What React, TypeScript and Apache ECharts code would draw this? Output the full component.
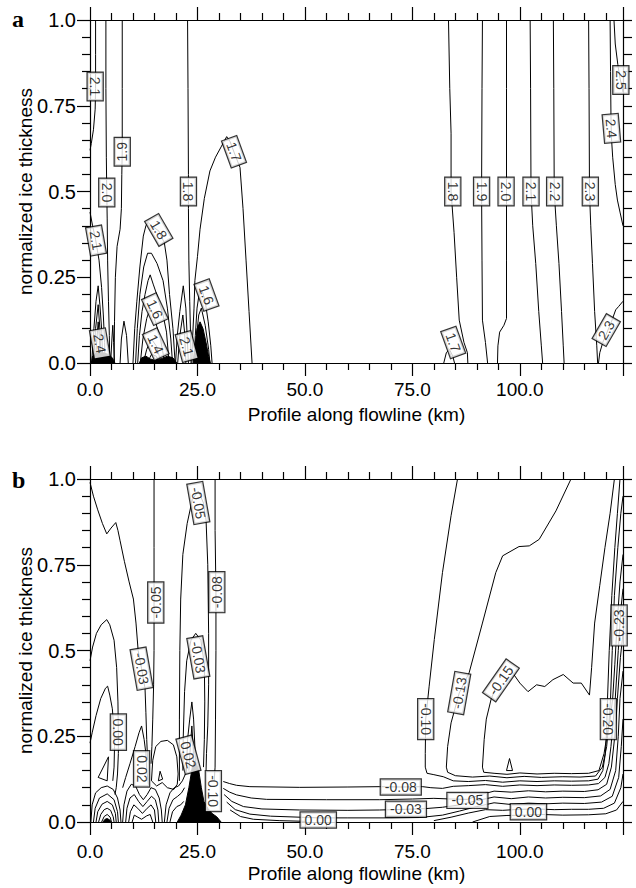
import React, { useEffect, useRef } from 'react';
import * as echarts from 'echarts';

type Pt = [number, number];

// ---------- axis texts ----------
const X_TITLE = 'Profile along flowline (km)';
const Y_TITLE = 'normalized ice thickness';
const X_MAX = 124;
const Y_TICK_LABELS: Record<string, string> = { '0': '0.0', '0.25': '0.25', '0.5': '0.5', '0.75': '0.75', '1': '1.0' };

// ---------- panel a contour lines (km, normalized thickness) ----------
const A_21_TOP: Pt[] = [[1.3, 1.0], [1.3, 0.9], [1.3, 0.8], [1.2, 0.74], [0.8, 0.68], [0.3, 0.64], [0, 0.62]];
const A_21_LOW: Pt[] = [[0, 0.44], [0.6, 0.4], [1.3, 0.36], [2.1, 0.3], [2.7, 0.22], [3.1, 0.14], [3.4, 0.06], [3.5, 0]];
const A_20: Pt[] = [[3.7, 1.0], [3.7, 0.8], [3.8, 0.6], [3.9, 0.5], [4.0, 0.42], [4.1, 0.3], [4.3, 0.18], [4.5, 0.08], [4.6, 0]];
const A_19: Pt[] = [[7.5, 1.0], [7.5, 0.8], [7.5, 0.62], [7.4, 0.55], [7.3, 0.45], [7.0, 0.39], [6.3, 0.34], [5.9, 0.25], [5.7, 0.12], [5.6, 0]];
const A_S1: Pt[] = [[0.4, 0], [0.9, 0.1], [1.4, 0.18], [1.9, 0.225], [2.3, 0.17], [2.7, 0.1], [3.0, 0]];
const A_S2: Pt[] = [[0.8, 0], [1.3, 0.1], [1.9, 0.17], [2.3, 0.1], [2.6, 0]];
const A_S3: Pt[] = [[1.2, 0], [1.6, 0.07], [1.9, 0.12], [2.2, 0.07], [2.4, 0]];
const A_S4: Pt[] = [[7.0, 0], [7.3, 0.07], [7.9, 0.122], [8.5, 0.08], [8.9, 0]];
const A_S5: Pt[] = [[4.8, 0], [5.1, 0.07], [5.3, 0.11], [5.5, 0.06], [5.7, 0]];
const A_18D: Pt[] = [[10.0, 0], [10.4, 0.1], [10.9, 0.18], [11.6, 0.28], [12.4, 0.37], [13.0, 0.4], [13.5, 0.41], [14.3, 0.4], [16.0, 0.385], [17.3, 0.35], [17.9, 0.3], [18.5, 0.2], [19.3, 0.1], [19.8, 0]];
const A_17D: Pt[] = [[10.6, 0], [11.0, 0.1], [11.6, 0.2], [12.5, 0.28], [13.4, 0.32], [14.3, 0.32], [15.6, 0.29], [17.0, 0.24], [18.0, 0.16], [18.8, 0.07], [19.2, 0]];
const A_16D: Pt[] = [[11.1, 0], [11.5, 0.08], [12.1, 0.15], [12.8, 0.2], [13.5, 0.24], [14.0, 0.257], [14.7, 0.23], [15.8, 0.19], [17.0, 0.14], [17.8, 0.09], [18.4, 0]];
const A_15D: Pt[] = [[11.7, 0], [12.3, 0.07], [13.2, 0.13], [14.0, 0.16], [15.0, 0.13], [16.4, 0.07], [17.4, 0]];
const A_14D: Pt[] = [[12.4, 0], [13.2, 0.04], [14.3, 0.07], [15.4, 0.05], [16.6, 0]];
const A_13D: Pt[] = [[13.3, 0], [14.3, 0.025], [15.4, 0.02], [16.0, 0]];
const A_S6: Pt[] = [[19.9, 0], [20.3, 0.08], [20.9, 0.15], [21.7, 0.225], [22.3, 0.16], [22.6, 0.08], [22.9, 0]];
const A_S7: Pt[] = [[20.4, 0], [20.9, 0.08], [21.6, 0.14], [22.0, 0.09], [22.3, 0]];
const A_18V: Pt[] = [[22.7, 1.0], [22.8, 0.8], [22.9, 0.55], [22.9, 0.45], [23.0, 0.3], [23.2, 0.18], [23.4, 0.08], [23.5, 0]];
const A_R1: Pt[] = [[24.2, 0], [24.5, 0.08], [24.9, 0.16], [25.5, 0.21], [26.1, 0.21], [26.8, 0.18], [27.5, 0.12], [28.1, 0.05], [28.4, 0]];
const A_R2: Pt[] = [[24.4, 0], [24.8, 0.08], [25.3, 0.14], [25.9, 0.16], [26.8, 0.11], [27.6, 0.04], [27.9, 0]];
const A_17: Pt[] = [[23.7, 0], [23.9, 0.08], [24.2, 0.16], [24.4, 0.24], [25.0, 0.31], [25.6, 0.39], [26.6, 0.48], [27.9, 0.56], [29.2, 0.6], [30.5, 0.63], [31.8, 0.66], [32.6, 0.645], [33.5, 0.615], [34.9, 0.57], [35.6, 0.45], [36.3, 0.3], [37.0, 0.15], [37.7, 0]];
const A_18R: Pt[] = [[83.4, 1.0], [83.7, 0.8], [84.0, 0.67], [84.0, 0.5], [84.7, 0.38], [85.3, 0.25], [85.9, 0.125], [87.0, 0.06], [87.8, 0.03], [87.9, 0]];
const A_17R: Pt[] = [[82.3, 0], [82.9, 0.03], [83.6, 0.04], [84.4, 0.02], [84.8, 0]];
const A_19R: Pt[] = [[91.3, 1.0], [91.2, 0.8], [91.1, 0.5], [91.2, 0.3], [91.3, 0.125], [92.0, 0.06], [92.5, 0]];
const A_20R: Pt[] = [[96.9, 1.0], [96.9, 0.8], [96.9, 0.5], [96.9, 0.3], [96.9, 0.13], [96.3, 0.11], [95.3, 0.09], [94.9, 0.05], [94.8, 0]];
const A_21R: Pt[] = [[102.4, 1.0], [102.5, 0.8], [102.6, 0.5], [103.0, 0.4], [103.7, 0.29], [104.4, 0.15], [105.0, 0.05], [105.3, 0]];
const A_22R: Pt[] = [[107.8, 1.0], [107.9, 0.8], [108.0, 0.5], [108.5, 0.4], [109.1, 0.29], [109.7, 0.15], [110.1, 0.05], [110.3, 0]];
const A_23R: Pt[] = [[116.0, 1.0], [116.1, 0.8], [116.2, 0.5], [116.5, 0.4], [116.9, 0.29], [117.4, 0.15], [117.9, 0.05], [118.1, 0]];
const A_24R: Pt[] = [[121.0, 1.0], [121.1, 0.85], [121.2, 0.72], [121.3, 0.66], [121.6, 0.6], [122.2, 0.52], [122.7, 0.475], [123.3, 0.44], [124, 0.4]];
const A_25R: Pt[] = [[121.9, 1.0], [122.2, 0.93], [122.8, 0.87], [123.3, 0.83], [124, 0.79]];
const A_23LOW: Pt[] = [[124, 0.18], [123.0, 0.165], [122.3, 0.155], [121.3, 0.12], [120.3, 0.09], [119.3, 0.06], [118.6, 0.03], [118.3, 0]];

// dense (black) bands of panel a
const A_FILL1: Pt[] = [[24.0, 0], [24.4, 0.05], [24.9, 0.1], [25.6, 0.12], [26.3, 0.1], [27.0, 0.06], [27.6, 0.02], [28.0, 0]];
const A_FILL2: Pt[] = [[0.3, 0], [0.6, 0.02], [1.5, 0.03], [3.0, 0.03], [4.3, 0.025], [5.2, 0.015], [5.8, 0]];
const A_FILL3: Pt[] = [[11.5, 0], [12.0, 0.015], [13.0, 0.02], [14.0, 0.012], [15.0, 0.008], [16.5, 0.012], [18.0, 0.02], [19.3, 0.015], [20.2, 0]];

const A_LINES: Pt[][] = [A_21_TOP, A_21_LOW, A_20, A_19, A_S1, A_S2, A_S3, A_S4, A_S5, A_18D, A_17D, A_16D, A_15D, A_14D, A_13D, A_S6, A_S7, A_18V, A_R1, A_R2, A_17, A_18R, A_17R, A_19R, A_20R, A_21R, A_22R, A_23R, A_24R, A_25R, A_23LOW];
const A_FILLS: Pt[][] = [A_FILL1, A_FILL2, A_FILL3];

const A_LABEL_TEXT = ['2.1', '2.0', '1.9', '2.1', '1.8', '1.7', '1.8', '1.6', '1.4', '2.4', '2.1', '1.6', '1.8', '1.9', '2.0', '2.1', '2.2', '2.3', '2.4', '2.5', '1.7', '2.3'];
const A_LABEL_POS: Pt[] = [[1.2, 0.806], [3.9, 0.497], [7.5, 0.616], [1.4, 0.357], [22.9, 0.5], [33.5, 0.616], [16.0, 0.388], [15.1, 0.157], [15.3, 0.055], [2.3, 0.057], [22.5, 0.048], [27.1, 0.198], [84.4, 0.5], [91.1, 0.5], [96.8, 0.5], [102.6, 0.5], [108.1, 0.5], [116.4, 0.5], [121.3, 0.684], [123.5, 0.825], [84.5, 0.06], [120.1, 0.096]];
const A_LABEL_ANGLE = [-90, -90, 90, -80, -90, -70, -60, -65, -65, -80, -75, -70, -90, -90, -90, -90, -90, -90, -85, -90, -70, 60];

// ---------- panel b contour lines ----------
const B_M03_TL: Pt[] = [[0, 0.99], [0.8, 0.95], [1.8, 0.91], [2.9, 0.87], [3.9, 0.84], [4.9, 0.857], [6.0, 0.873], [6.5, 0.85], [7.0, 0.82], [8.0, 0.76], [9.1, 0.7], [10.1, 0.65], [10.7, 0.58], [11.2, 0.5], [12.0, 0.447], [12.8, 0.39], [13.0, 0.32], [13.2, 0.24], [13.4, 0.18]];
const B_M05V: Pt[] = [[14.9, 1.0], [14.9, 0.8], [14.9, 0.64], [14.9, 0.5], [14.8, 0.4], [14.6, 0.3], [14.4, 0.22], [14.2, 0.17]];
const B_M08V: Pt[] = [[29.1, 1.0], [29.1, 0.85], [29.3, 0.67], [29.3, 0.5], [29.2, 0.3], [29.1, 0.16], [28.9, 0.12]];
const B_M05D: Pt[] = [[20.8, 0.12], [20.8, 0.3], [20.9, 0.5], [21.1, 0.65], [21.6, 0.78], [22.6, 0.87], [23.8, 0.94], [25.2, 0.965], [26.4, 0.93], [27.0, 0.88], [27.4, 0.75], [27.6, 0.55], [27.6, 0.4], [27.4, 0.28], [27.1, 0.2], [27.0, 0.15]];
const B_M03D: Pt[] = [[21.6, 0.15], [21.7, 0.25], [22.0, 0.38], [22.5, 0.47], [23.5, 0.53], [24.6, 0.55], [25.8, 0.53], [26.6, 0.46], [26.7, 0.35], [26.6, 0.24], [26.4, 0.16]];
const B_S1: Pt[] = [[22.4, 0.14], [22.7, 0.24], [23.2, 0.3], [23.7, 0.35], [24.1, 0.3], [24.4, 0.22], [24.6, 0.14]];
const B_S2: Pt[] = [[23.0, 0.15], [23.4, 0.23], [23.7, 0.28], [24.0, 0.22], [24.2, 0.15]];
const B_C00: Pt[] = [[0, 0.47], [0.6, 0.51], [1.5, 0.55], [2.6, 0.575], [3.9, 0.59], [4.6, 0.575], [5.6, 0.53], [6.2, 0.45], [6.5, 0.35], [6.6, 0.26], [6.6, 0.2], [6.4, 0.14], [6.1, 0.1], [5.8, 0.08]];
const B_C02A: Pt[] = [[0, 0.23], [0.5, 0.26], [1.4, 0.31], [2.5, 0.36], [3.6, 0.39], [4.1, 0.396], [4.6, 0.37], [5.2, 0.33], [5.5, 0.28], [5.7, 0.22], [5.6, 0.16], [5.3, 0.12]];
const B_TRI1: Pt[] = [[1.9, 0.13], [4.3, 0.19], [4.0, 0.12], [1.9, 0.13]];
const B_C02B: Pt[] = [[7.6, 0.1], [8.3, 0.13], [9.3, 0.17], [10.5, 0.22], [11.4, 0.26], [12.0, 0.28], [12.6, 0.24], [13.0, 0.2], [13.2, 0.15], [13.6, 0.11]];
const B_BLOB: Pt[] = [[14.3, 0.12], [14.6, 0.18], [15.3, 0.22], [16.5, 0.235], [18.0, 0.238], [19.4, 0.225], [20.2, 0.19], [20.5, 0.14], [20.3, 0.11], [19.5, 0.095], [18.0, 0.1], [16.8, 0.115], [15.5, 0.105], [14.3, 0.12]];
const B_TRI2: Pt[] = [[15.9, 0.12], [16.3, 0.148], [16.9, 0.125], [15.9, 0.12]];
const B_A1: Pt[] = [[0.2, 0], [0.5, 0.05], [1.3, 0.085], [2.6, 0.1], [4.0, 0.105], [5.4, 0.095], [6.4, 0.07], [7.0, 0.035], [7.2, 0]];
const B_A2: Pt[] = [[0.8, 0], [1.2, 0.04], [2.2, 0.07], [4.0, 0.082], [5.6, 0.065], [6.4, 0.03], [6.6, 0]];
const B_A3: Pt[] = [[1.4, 0], [1.8, 0.03], [2.8, 0.052], [4.0, 0.06], [5.2, 0.05], [5.9, 0.025], [6.1, 0]];
const B_A4: Pt[] = [[2.0, 0], [2.5, 0.022], [3.3, 0.036], [4.0, 0.04], [4.8, 0.034], [5.4, 0.015], [5.6, 0]];
const B_A5: Pt[] = [[2.7, 0], [3.3, 0.016], [4.0, 0.022], [4.7, 0.014], [5.0, 0]];
const B_MW1: Pt[] = [[7.6, 0], [7.9, 0.05], [8.6, 0.09], [9.6, 0.11], [10.6, 0.105], [11.5, 0.08], [12.4, 0.065], [13.3, 0.08], [14.2, 0.1], [15.2, 0.095], [16.1, 0.07], [16.6, 0.035], [16.8, 0]];
const B_MW2: Pt[] = [[8.3, 0], [8.6, 0.04], [9.3, 0.07], [10.3, 0.08], [11.3, 0.06], [12.3, 0.045], [13.3, 0.06], [14.3, 0.075], [15.2, 0.065], [15.8, 0.035], [16.0, 0]];
const B_MW3: Pt[] = [[9.0, 0], [9.4, 0.03], [10.2, 0.05], [11.1, 0.04], [12.2, 0.025], [13.3, 0.04], [14.2, 0.05], [15.0, 0.035], [15.3, 0]];
const B_MW4: Pt[] = [[9.8, 0], [10.3, 0.02], [11.0, 0.015], [12.0, 0.008], [13.2, 0.018], [14.0, 0.022], [14.6, 0]];
const B_R1: Pt[] = [[17.3, 0], [17.7, 0.05], [18.6, 0.085], [19.6, 0.1], [20.6, 0.105], [21.5, 0.12], [22.2, 0.14]];
const B_R2: Pt[] = [[17.9, 0], [18.4, 0.04], [19.3, 0.065], [20.4, 0.075], [21.3, 0.085], [22.0, 0.1]];
const B_R3: Pt[] = [[18.6, 0], [19.2, 0.03], [20.2, 0.045], [21.1, 0.05], [21.8, 0.06]];
const B_P10: Pt[] = [[85.5, 1.0], [84.0, 0.893], [82.0, 0.727], [80.1, 0.532], [78.9, 0.396], [78.1, 0.3], [78.0, 0.2], [78.0, 0.16], [78.4, 0.142], [80.0, 0.138], [82.2, 0.132], [84.5, 0.12], [88, 0.118], [92, 0.121], [96, 0.116], [100, 0.12], [104, 0.118], [108, 0.12], [112, 0.119], [116, 0.12], [118.2, 0.125], [119.3, 0.15], [119.9, 0.2], [120.2, 0.27], [120.4, 0.36], [120.8, 0.5], [121.4, 0.66], [122.1, 0.8], [122.7, 0.9], [123.3, 1.0]];
const B_P13: Pt[] = [[111.9, 1.0], [108.4, 0.907], [104.5, 0.824], [102.2, 0.805], [99.8, 0.803], [96.0, 0.776], [94.4, 0.727], [91.3, 0.58], [88.2, 0.435], [85.9, 0.376], [84.0, 0.289], [83.2, 0.22], [82.9, 0.16], [83.2, 0.145], [85, 0.135], [89, 0.131], [93, 0.134], [97, 0.129], [101, 0.133], [105, 0.13], [110, 0.132], [114, 0.131], [117.6, 0.134], [119.2, 0.16], [120.2, 0.22], [120.8, 0.3], [121.1, 0.36], [121.5, 0.5], [122.0, 0.66], [122.8, 0.8], [123.5, 0.9], [124, 0.95]];
const B_P15_LOW: Pt[] = [[94.3, 0.39], [93.3, 0.357], [92.2, 0.3], [91.7, 0.24], [91.3, 0.16], [91.6, 0.145], [94, 0.142], [97, 0.139], [100, 0.143], [104, 0.14], [108, 0.142], [112, 0.141], [116, 0.142], [118.4, 0.15], [119.6, 0.2], [120.5, 0.27], [121.0, 0.3], [121.6, 0.36], [122.1, 0.46], [122.6, 0.57], [123.3, 0.7], [124, 0.78]];
const B_P15_UP: Pt[] = [[97.6, 0.45], [98.6, 0.43], [100, 0.405], [101.9, 0.38], [103.9, 0.4], [105.8, 0.395], [107.7, 0.415], [110.1, 0.43], [112.4, 0.405], [114.3, 0.405], [116.2, 0.37], [116.7, 0.45], [117.4, 0.58], [118.6, 0.69], [119.8, 0.8], [121.0, 0.9], [122.0, 1.0]];
const B_TRI3: Pt[] = [[96.9, 0.15], [97.6, 0.185], [98.3, 0.15], [96.9, 0.15]];
const B_BL08: Pt[] = [[31.0, 0.118], [32.5, 0.112], [34.1, 0.107], [37.2, 0.103], [48.8, 0.101], [60, 0.102], [67.4, 0.103], [72.3, 0.102], [77.4, 0.103], [79.3, 0.1], [82.0, 0.098], [84.5, 0.104], [88, 0.106], [92, 0.109], [96, 0.104], [100, 0.108], [104, 0.106], [108, 0.108], [112, 0.107], [116, 0.108], [118.3, 0.112], [119.8, 0.13], [120.7, 0.17], [121.2, 0.22], [121.7, 0.29], [122.2, 0.36], [122.9, 0.5], [123.5, 0.62], [124, 0.68]];
const B_BL05: Pt[] = [[31.0, 0.098], [32.5, 0.087], [34.1, 0.079], [37.5, 0.07], [41.1, 0.066], [55, 0.065], [67.4, 0.065], [75, 0.067], [80, 0.069], [84, 0.067], [87.8, 0.066], [91, 0.08], [94, 0.09], [98, 0.087], [102, 0.091], [106, 0.088], [110, 0.09], [115, 0.089], [118.2, 0.094], [120.2, 0.11], [121.3, 0.16], [122.0, 0.24], [122.4, 0.3], [122.7, 0.36], [123.4, 0.48], [124, 0.55]];
const B_BL03: Pt[] = [[31.2, 0.08], [33.0, 0.06], [35.7, 0.045], [40, 0.038], [48.8, 0.035], [60, 0.034], [67.4, 0.035], [73.5, 0.037], [78, 0.039], [82, 0.043], [86, 0.05], [90, 0.062], [94, 0.073], [98, 0.068], [102, 0.073], [106, 0.07], [110, 0.072], [115, 0.071], [118.8, 0.076], [121, 0.095], [122.3, 0.15], [122.9, 0.25], [123.3, 0.36], [124, 0.44]];
const B_BL00: Pt[] = [[31.8, 0.058], [33.8, 0.036], [37.2, 0.023], [42, 0.017], [48.8, 0.014], [53.1, 0.012], [60, 0.012], [70, 0.012], [76.7, 0.013], [82, 0.02], [86, 0.032], [90, 0.045], [94, 0.056], [98, 0.051], [102, 0.055], [106, 0.053], [110, 0.055], [115, 0.054], [119, 0.058], [121.5, 0.075], [123, 0.13], [123.6, 0.22], [124, 0.3]];
const B_BLP1: Pt[] = [[80, 0.004], [84, 0.014], [88, 0.026], [92, 0.036], [96, 0.034], [100, 0.037], [104, 0.038], [108, 0.036], [112, 0.037], [116, 0.037], [119.5, 0.04], [122, 0.055], [123.5, 0.1], [124, 0.14]];
const B_BLP2: Pt[] = [[89, 0], [93, 0.016], [97, 0.019], [101, 0.02], [105, 0.022], [110, 0.02], [116, 0.021], [120, 0.024], [122.5, 0.035], [124, 0.06]];
const B_BLBOT: Pt[] = [[32.6, 0.035], [35, 0.016], [38, 0.008], [44, 0.004], [50, 0.002]];

const B_FILL_C: Pt[] = [[20.3, 0], [21.2, 0.02], [22.2, 0.05], [23.0, 0.1], [23.8, 0.16], [24.6, 0.175], [25.3, 0.15], [25.9, 0.1], [26.5, 0.06], [27.4, 0.04], [28.4, 0.025], [29.5, 0.015], [30.5, 0]];
const B_FILL_L: Pt[] = [[3.0, 0], [3.5, 0.008], [4.0, 0.01], [4.6, 0.006], [4.9, 0]];

const B_LINES: Pt[][] = [B_M03_TL, B_M05V, B_M08V, B_M05D, B_M03D, B_S1, B_S2, B_C00, B_C02A, B_TRI1, B_C02B, B_BLOB, B_TRI2, B_A1, B_A2, B_A3, B_A4, B_A5, B_MW1, B_MW2, B_MW3, B_MW4, B_R1, B_R2, B_R3, B_P10, B_P13, B_P15_LOW, B_P15_UP, B_TRI3, B_BL08, B_BL05, B_BL03, B_BL00, B_BLP1, B_BLP2, B_BLBOT];
const B_FILLS: Pt[][] = [B_FILL_C, B_FILL_L];

const B_LABEL_TEXT = ['-0.03', '-0.05', '-0.05', '-0.08', '-0.03', '0.00', '0.02', '0.02', '-0.10', '0.00', '-0.08', '-0.03', '-0.05', '0.00', '-0.10', '-0.13', '-0.15', '-0.20', '-0.23'];
const B_LABEL_POS: Pt[] = [[12.0, 0.447], [15.3, 0.64], [25.2, 0.93], [29.5, 0.67], [25.2, 0.48], [6.6, 0.262], [12.0, 0.155], [22.9, 0.196], [28.7, 0.09], [53.1, 0.006], [72.3, 0.102], [73.5, 0.037], [87.8, 0.063], [102.0, 0.03], [78.1, 0.3], [85.9, 0.376], [95.6, 0.413], [120.6, 0.3], [123.1, 0.573]];
const B_LABEL_ANGLE = [-80, 90, -80, 90, -80, -90, -90, -75, -90, 0, 0, 0, 0, 0, -90, 80, 55, -90, 90];

const PANEL_LETTERS = ['a', 'b'];

// ---------- styling ----------
const FONT = '"Liberation Sans", Arial, Helvetica, sans-serif';
const BLACK = '#000';
const GRIDS = [
  { left: 90, top: 20, width: 533, height: 343 },
  { left: 90, top: 479, width: 533, height: 343 },
];
const LABEL_MARGINS = [17, 20];
const LETTER_TOPS = [7, 468];

function buildOption() {
  const axisLine = { show: true, onZero: false, lineStyle: { color: BLACK, width: 1.2 } };
  const xAxes: any[] = [];
  const yAxes: any[] = [];
  GRIDS.forEach((_, gi) => {
    const common = {
      gridIndex: gi,
      type: 'value',
      min: 0,
      max: X_MAX,
      interval: 25,
      axisLine,
      axisTick: { show: true, inside: false, length: 13, lineStyle: { color: BLACK, width: 1.2 } },
      minorTick: { show: true, splitNumber: 5, length: 7, lineStyle: { color: BLACK, width: 1.2 } },
      splitLine: { show: false },
      minorSplitLine: { show: false },
    };
    xAxes.push({
      ...common,
      position: 'bottom',
      axisLabel: {
        show: true,
        margin: LABEL_MARGINS[gi],
        color: BLACK,
        fontSize: 19,
        fontFamily: FONT,
        showMaxLabel: false,
        formatter: (v: number) => v.toFixed(1),
      },
      name: X_TITLE,
      nameLocation: 'middle',
      nameGap: 42,
      nameMoveOverlap: false,
      nameTextStyle: { color: BLACK, fontSize: 19, fontFamily: FONT },
    });
    xAxes.push({ ...common, position: 'top', axisLabel: { show: false } });

    yAxes.push({
      gridIndex: gi,
      type: 'value',
      position: 'left',
      min: 0,
      max: 1,
      interval: 0.25,
      axisLine,
      axisTick: { show: true, inside: false, length: 13, lineStyle: { color: BLACK, width: 1.2 } },
      minorTick: { show: true, splitNumber: 5, length: 8, lineStyle: { color: BLACK, width: 1.2 } },
      splitLine: { show: false },
      minorSplitLine: { show: false },
      axisLabel: {
        show: true,
        margin: 14,
        color: BLACK,
        fontSize: 20,
        fontFamily: FONT,
        formatter: (v: number) => Y_TICK_LABELS[String(v)] ?? String(v),
      },
      name: Y_TITLE,
      nameLocation: 'middle',
      nameRotate: 90,
      nameGap: 55,
      nameMoveOverlap: false,
      nameTextStyle: { color: BLACK, fontSize: 19, fontFamily: FONT },
    });
    yAxes.push({
      gridIndex: gi,
      type: 'value',
      position: 'right',
      min: 0,
      max: 1,
      interval: 0.05,
      axisLine,
      axisTick: { show: true, inside: false, length: 9, lineStyle: { color: BLACK, width: 1.2 } },
      splitLine: { show: false },
      axisLabel: { show: false },
    });
  });

  const series: any[] = [];
  const addLines = (lines: Pt[][], gi: number, fill: boolean) => {
    lines.forEach((data) => {
      series.push({
        type: 'line',
        xAxisIndex: gi * 2,
        yAxisIndex: gi * 2,
        data,
        symbol: 'none',
        showSymbol: false,
        silent: true,
        smooth: false,
        z: 2,
        lineStyle: { color: BLACK, width: 1 },
        ...(fill ? { areaStyle: { color: BLACK, opacity: 1 } } : {}),
      });
    });
  };
  addLines(A_LINES, 0, false);
  addLines(A_FILLS, 0, true);
  addLines(B_LINES, 1, false);
  addLines(B_FILLS, 1, true);

  const addLabels = (pos: Pt[], texts: string[], angles: number[], gi: number) => {
    series.push({
      type: 'scatter',
      xAxisIndex: gi * 2,
      yAxisIndex: gi * 2,
      symbolSize: 1,
      silent: true,
      z: 10,
      itemStyle: { color: 'rgba(0,0,0,0)' },
      label: {
        show: true,
        position: 'inside',
        color: BLACK,
        fontSize: 14,
        fontFamily: FONT,
        backgroundColor: '#fff',
        borderColor: BLACK,
        borderWidth: 1.2,
        padding: [1, 4, 0, 4],
      },
      data: pos.map((p, i) => ({ value: p, label: { rotate: angles[i], formatter: texts[i] } })),
    });
  };
  addLabels(A_LABEL_POS, A_LABEL_TEXT, A_LABEL_ANGLE, 0);
  addLabels(B_LABEL_POS, B_LABEL_TEXT, B_LABEL_ANGLE, 1);

  return {
    animation: false,
    backgroundColor: '#fff',
    grid: GRIDS.map((g) => ({ ...g, containLabel: false, outerBoundsMode: 'none' })),
    xAxis: xAxes,
    yAxis: yAxes,
    series,
    graphic: PANEL_LETTERS.map((t, i) => ({
      type: 'text',
      left: 12,
      top: LETTER_TOPS[i],
      style: { text: t, font: 'bold 24px "Liberation Serif", "DejaVu Serif", serif', fill: BLACK },
    })),
  };
}

export default function App() {
  const ref = useRef<HTMLDivElement>(null);
  useEffect(() => {
    if (!ref.current) return;
    const chart = echarts.init(ref.current, undefined, { renderer: 'svg' });
    chart.setOption(buildOption() as any);
    return () => chart.dispose();
  }, []);
  return (
    <div
      ref={ref}
      style={{ position: 'absolute', left: 0, top: 0, width: 636, height: 888, background: '#fff' }}
    />
  );
}
